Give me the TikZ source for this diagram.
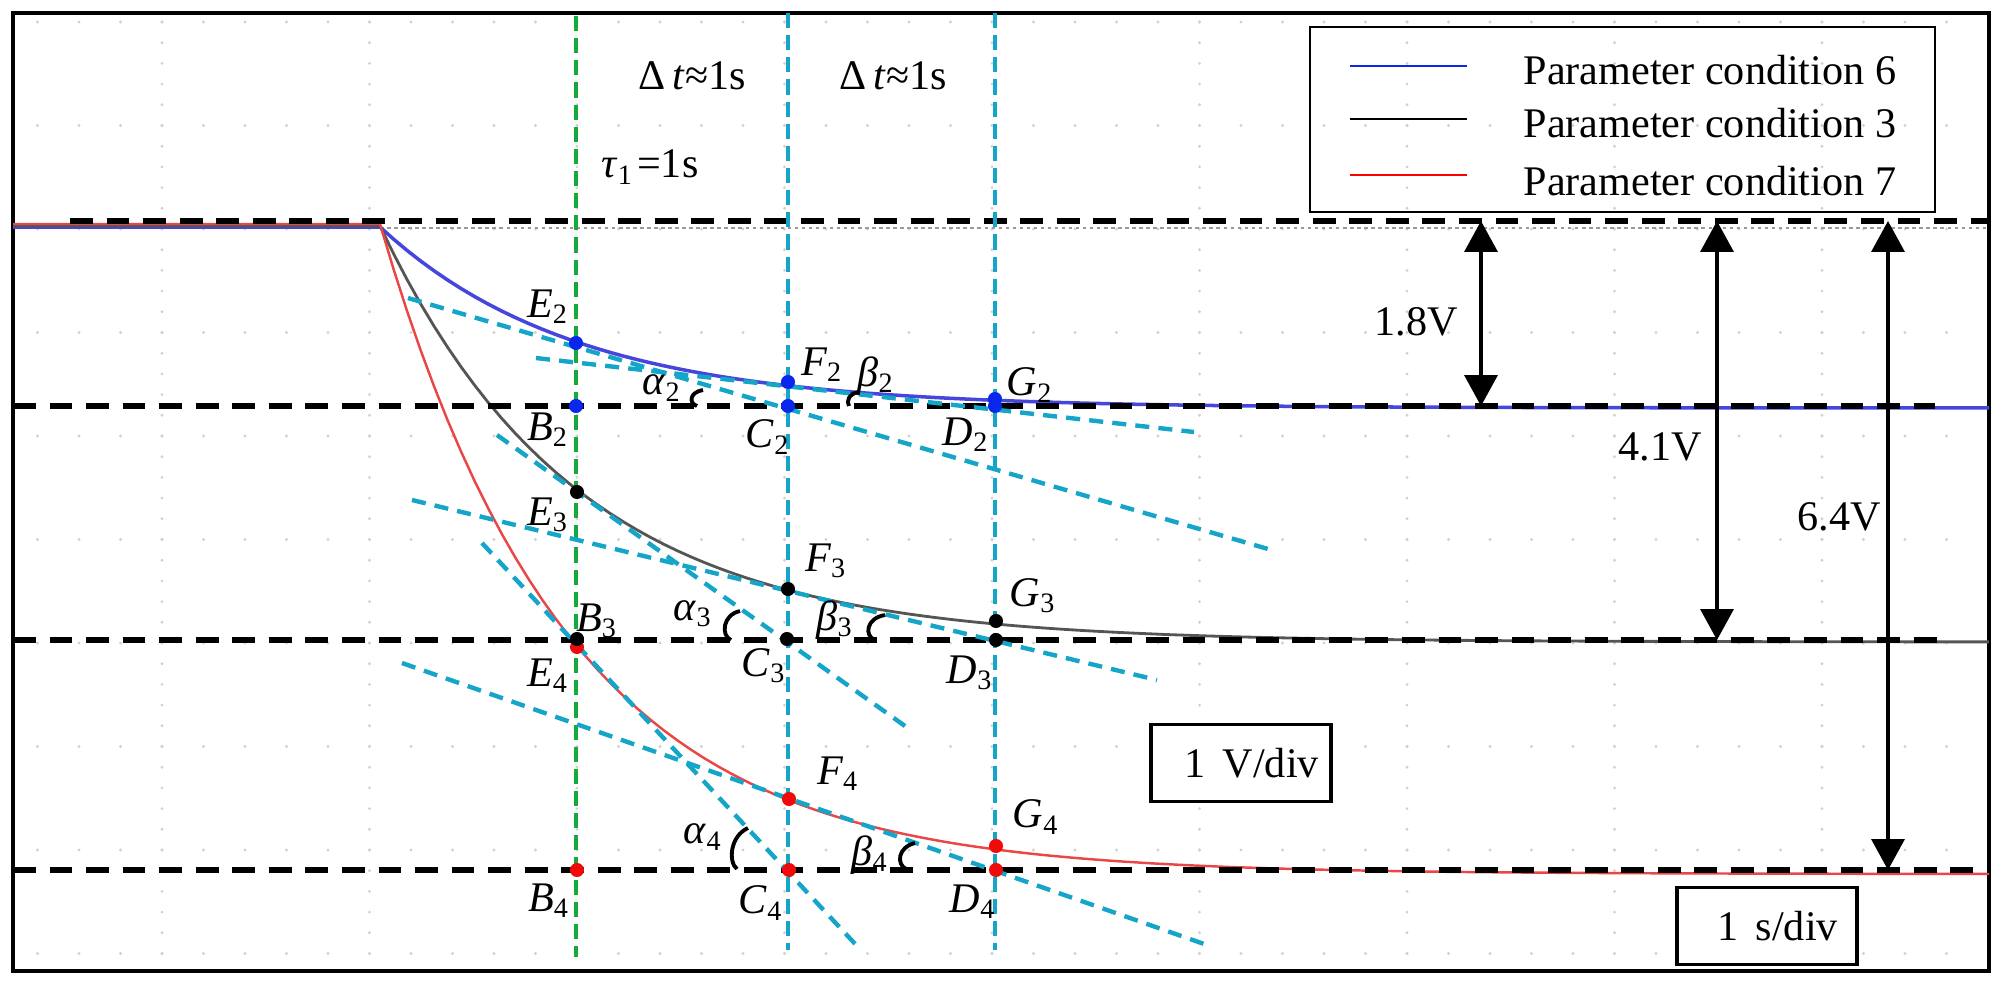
\documentclass[tikz,border=0pt]{standalone}
\usepackage{fontspec}
\setmainfont{Liberation Serif}
\usepackage{tikz}
\usetikzlibrary{positioning, arrows.meta}
\definecolor{tcyan}{RGB}{20,165,200}
\definecolor{vgreen}{RGB}{20,170,60}
\definecolor{tblue}{RGB}{70,70,220}
\definecolor{tgray}{RGB}{85,85,85}
\definecolor{tred}{RGB}{235,70,70}
\definecolor{dblue}{RGB}{10,40,235}
\definecolor{dred}{RGB}{240,10,10}

\begin{document}
\begin{tikzpicture}[x=0.1mm, y=-0.1mm, font=\fontsize{12}{14}\selectfont,
    dot/.style={circle, fill=#1, inner sep=0pt, minimum size=4pt},
    lab/.style={inner sep=0pt, on grid},
    level/.style={line width=1.5pt, dash pattern=on 6.5pt off 3.9pt},
    vline/.style={line width=1pt, dash pattern=on 4.3pt off 2pt},
    tangent/.style={tcyan, line width=1.25pt, dash pattern=on 4pt off 2.6pt},
    angmark/.style={line width=1.1pt},
    dimarrow/.style={line width=0.9pt, {Triangle[width=9.4pt,length=8.8pt]}-{Triangle[width=9.4pt,length=8.8pt]}},
    divbox/.style={draw, fill=white, line width=1pt, inner sep=0pt, minimum width=18mm, minimum height=7.7mm}]
    \useasboundingbox (0,0) rectangle (2015,1000);
    % scope grid
    \foreach \k in {0,...,9} {
        \foreach \j in {1,...,47} {
            \fill[black!18] ({-4+41.5*\j}, {22+103.5*\k}) circle[radius=0.45pt];
        }
    }
    \foreach \m in {0,...,8} {
        \foreach \i in {0,...,45} {
            \fill[black!18] ({162+207.5*\m}, {22+20.7*\i}) circle[radius=0.45pt];
        }
    }
    \draw[black!40, line width=0.6pt, dash pattern=on 1pt off 1pt] (380,228) -- (1989,228); % reference trace
    \draw[line width=1pt] (13,13) rectangle (1989,971); % frame
    % traces
    \draw[tblue, line width=1pt] (13,227) -- (380,227) -- plot[domain=380:1989, samples=120] (\x, {408-181*exp(-(\x-380)/195)});
    \draw[tgray, line width=0.8pt] (13,226) -- (380,226) -- plot[domain=380:1989, samples=120] (\x, {642-416*exp(-(\x-380)/196)});
    \draw[tred, line width=0.7pt] (13,224) -- (380,224) -- plot[domain=380:1989, samples=120] (\x, {874-650*exp(-(\x-380)/188)});
    % dashed levels
    \coordinate (h1a) at (70,221);   \coordinate (h1b) at (1989,221);
    \coordinate (h2a) at (13,406);   \coordinate (h2b) at (1935,406);
    \coordinate (h3a) at (13,640);   \coordinate (h3b) at (1938,640);
    \coordinate (h4a) at (13,870);   \coordinate (h4b) at (1989,870);
    \draw[level] (h1a) -- (h1b);
    \draw[level] (h2a) -- (h2b);
    \draw[level] (h3a) -- (h3b);
    \draw[level] (h4a) -- (h4b);
    % time marks
    \coordinate (gtop) at (576,16);  \coordinate (gbot) at (576,957);
    \coordinate (c1top) at (788,13); \coordinate (c1bot) at (788,950);
    \coordinate (c2top) at (995,13); \coordinate (c2bot) at (995,950);
    \draw[vline, vgreen] (gtop) -- (gbot);
    \draw[vline, tcyan] (c1top) -- (c1bot);
    \draw[vline, tcyan] (c2top) -- (c2bot);
    % tangents
    \coordinate (t2s) at (408,298);  \coordinate (t2e) at (1268,549); % through E2, C2
    \coordinate (u2s) at (536,358);  \coordinate (u2e) at (1194,432); % through F2, D2
    \coordinate (t3s) at (497,435);  \coordinate (t3e) at (912,731);  % through E3, C3
    \coordinate (u3s) at (412,500);  \coordinate (u3e) at (1157,680); % through F3, D3
    \coordinate (t4s) at (482,543);  \coordinate (t4e) at (858,947);  % through E4, C4
    \coordinate (u4s) at (402,663);  \coordinate (u4e) at (1207,945); % through F4, D4
    \draw[tangent] (t2s) -- (t2e);
    \draw[tangent] (u2s) -- (u2e);
    \draw[tangent] (t3s) -- (t3e);
    \draw[tangent] (u3s) -- (u3e);
    \draw[tangent] (t4s) -- (t4e);
    \draw[tangent] (u4s) -- (u4e);
    % angle marks
    \draw[angmark] (703,390) .. controls (690,392) and (688,403) .. (697,406);
    \draw[angmark] (858,392) .. controls (849,394) and (846,401) .. (849,406);
    \draw[angmark] (740,611) .. controls (722,615) and (721,636) .. (731,640);
    \draw[angmark] (885,615) .. controls (866,618) and (864,636) .. (875,640);
    \draw[angmark] (748,828) .. controls (730,836) and (728,862) .. (737,869);
    \draw[angmark] (915,843) .. controls (898,847) and (896,864) .. (906,869);
    % points
    \node[dot=dblue] (E2) at (576,343) {};
    \node[dot=dblue] (B2) at (576,406) {};
    \node[dot=dblue] (F2) at (788,382) {};
    \node[dot=dblue] (C2) at (788,406) {};
    \node[dot=dblue] (G2) at (995,399) {};
    \node[dot=dblue] (D2) at (995,406) {};
    \node[dot=dred] (E4) at (577,647) {};
    \node[dot=dred] (B4) at (577,870) {};
    \node[dot=dred] (F4) at (789,799) {};
    \node[dot=dred] (C4) at (789,870) {};
    \node[dot=dred] (G4) at (996,846) {};
    \node[dot=dred] (D4) at (996,870) {};
    \node[dot=black] (E3) at (577,492) {};
    \node[dot=black] (B3) at (577,639) {};
    \node[dot=black] (F3) at (788,589) {};
    \node[dot=black] (C3) at (787,639) {};
    \node[dot=black] (G3) at (996,621) {};
    \node[dot=black] (D3) at (996,640) {};
    % point labels
    \node[lab, above left=3.6mm and 2.8mm of E2] (lE2) {\textit{E}\textsubscript{2}};
    \node[lab, below left=2.4mm and 2.8mm of B2] (lB2) {\textit{B}\textsubscript{2}};
    \node[lab, above right=1.7mm and 3.4mm of F2] (lF2) {\textit{F}\textsubscript{2}};
    \node[lab, below left=3.1mm and 2mm of C2] (lC2) {\textit{C}\textsubscript{2}};
    \node[lab, above right=1.4mm and 3.5mm of G2] (lG2) {\textit{G}\textsubscript{2}};
    \node[lab, below left=2.9mm and 2.9mm of D2] (lD2) {\textit{D}\textsubscript{2}};
    \node[lab, below left=2.3mm and 2.9mm of E3] (lE3) {\textit{E}\textsubscript{3}};
    \node[lab, above right=1.8mm and 2mm of B3] (lB3) {\textit{B}\textsubscript{3}};
    \node[lab, below left=2.9mm and 2.9mm of E4] (lE4) {\textit{E}\textsubscript{4}};
    \node[lab, above right=2.8mm and 3.8mm of F3] (lF3) {\textit{F}\textsubscript{3}};
    \node[lab, below left=2.7mm and 2.3mm of C3] (lC3) {\textit{C}\textsubscript{3}};
    \node[lab, above right=2.5mm and 3.7mm of G3] (lG3) {\textit{G}\textsubscript{3}};
    \node[lab, below left=3.3mm and 2.6mm of D3] (lD3) {\textit{D}\textsubscript{3}};
    \node[lab, above right=2.5mm and 4.9mm of F4] (lF4) {\textit{F}\textsubscript{4}};
    \node[lab, above right=2.9mm and 4mm of G4] (lG4) {\textit{G}\textsubscript{4}};
    \node[lab, below left=3.1mm and 2.8mm of B4] (lB4) {\textit{B}\textsubscript{4}};
    \node[lab, below left=3.3mm and 2.8mm of C4] (lC4) {\textit{C}\textsubscript{4}};
    \node[lab, below left=3.2mm and 2.3mm of D4] (lD4) {\textit{D}\textsubscript{4}};
    % angle labels
    \node[lab] (la2) at (662,388) {\textit{α}\textsubscript{2}};
    \node[lab] (lb2) at (876,376) {\textit{β}\textsubscript{2}};
    \node[lab] (la3) at (693,614) {\textit{α}\textsubscript{3}};
    \node[lab] (lb3) at (835,620) {\textit{β}\textsubscript{3}};
    \node[lab] (la4) at (703,837) {\textit{α}\textsubscript{4}};
    \node[lab] (lb4) at (870,855) {\textit{β}\textsubscript{4}};
    % time texts
    \node[lab] (dt1) at (692,76) {Δ\,\textit{t}≈1s};
    \node[lab] (dt2) at (893,76) {Δ\,\textit{t}≈1s};
    \node[lab] (tau) at (650,167) {\textit{τ}\textsubscript{1}\kern1pt=1s};
    % voltage differences
    \coordinate (a18t) at (1481,221); \coordinate (a18b) at (1481,406);
    \coordinate (a41t) at (1717,221); \coordinate (a41b) at (1717,640);
    \coordinate (a64t) at (1888,221); \coordinate (a64b) at (1888,870);
    \draw[dimarrow] (a18t) -- (a18b);
    \draw[dimarrow] (a41t) -- (a41b);
    \draw[dimarrow] (a64t) -- (a64b);
    \node[lab] (v18) at (1416,322) {1.8V};
    \node[lab] (v41) at (1660,447) {4.1V};
    \node[lab] (v64) at (1839,517) {6.4V};
    % legend
    \draw[line width=0.8pt] (1310,27) rectangle (1935,212);
    \coordinate (l6a) at (1350,66);  \coordinate (l6b) at (1467,66);
    \coordinate (l3a) at (1350,119); \coordinate (l3b) at (1467,119);
    \coordinate (l7a) at (1350,175); \coordinate (l7b) at (1467,175);
    \draw[dblue, line width=0.8pt] (l6a) -- (l6b);
    \draw[black, line width=0.8pt] (l3a) -- (l3b);
    \draw[red, line width=0.8pt] (l7a) -- (l7b);
    \node[inner sep=0pt, anchor=base west] (leg6) at (1523,84) {Parameter condition 6};
    \node[inner sep=0pt, anchor=base west] (leg3) at (1523,137) {Parameter condition 3};
    \node[inner sep=0pt, anchor=base west] (leg7) at (1523,195) {Parameter condition 7};
    % scale boxes
    \node[divbox] (vdiv) at (1241,763) {\hspace*{6pt}1\hspace{5pt}V/div};
    \node[divbox] (sdiv) at (1767,926) {\hspace*{6pt}1\hspace{5pt}s/div};
\end{tikzpicture}
\end{document}
